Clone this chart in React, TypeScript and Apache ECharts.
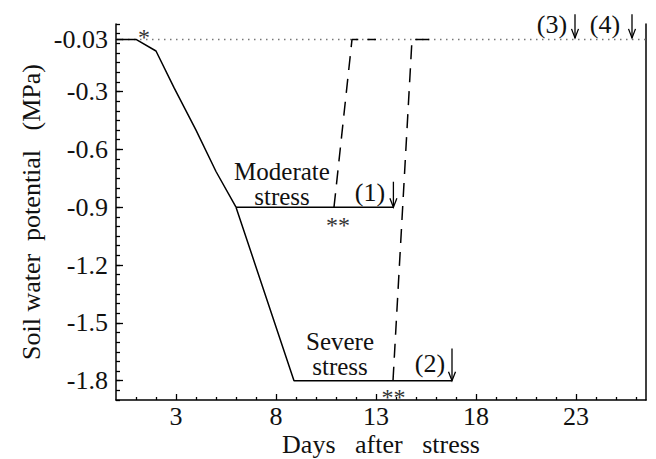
import React, { useEffect, useRef } from "react";
import * as echarts from "echarts";

const X_MIN = 0;
const X_MAX = 26.5;
const Y_MIN = -1.9;
const Y_MAX = 0.05;

const xLabelValues = [3, 8, 13, 18, 23];
const xMinorTicks = [1, 2, 4, 5, 6, 7, 9, 10, 11, 12, 14, 15, 16, 17, 19, 20, 21, 22, 24, 25, 26];
const yLabelValues = [-0.03, -0.3, -0.6, -0.9, -1.2, -1.5, -1.8];

// drying phase common to both treatments
const drydownDays = [0, 1, 2, 2.9, 4, 5, 6];
const drydownPsi = [-0.03, -0.03, -0.09, -0.28, -0.5, -0.715, -0.9];
// moderate stress plateau
const moderateDays = [6, 13.87];
const moderatePsi = [-0.9, -0.9];
// severe stress descent and plateau
const severeDays = [6, 8.9, 16.8];
const severePsi = [-0.9, -1.8, -1.8];
// rewatering (dashed)
const moderateRewaterDays = [10.9, 11.8, 13];
const moderateRewaterPsi = [-0.9, -0.03, -0.03];
const severeRewaterDays = [13.85, 14.8, 16.1];
const severeRewaterPsi = [-1.8, -0.03, -0.03];
// control level (dotted)
const controlDays = [0, 26.5];
const controlPsi = [-0.03, -0.03];

// annotations
const annotationTexts = ["*", "Moderate\nstress", "(1)", "**", "Severe\nstress", "(2)", "**", "(3)", "(4)"];
const annotationDays = [1.4, 8.3, 12.7, 11.1, 11.2, 15.7, 13.87, 21.8, 24.45];
const annotationPsi = [-0.02, -0.778, -0.826, -0.993, -1.661, -1.711, -1.883, 0.049, 0.049];
const annotationSizes = [24, 25, 26, 24, 25, 26, 24, 26, 26];
const annotationColors = ["#333", "#111", "#111", "#333", "#111", "#111", "#333", "#111", "#111"];

// arrows: day, psi of tail, psi of tip
const arrowDays = [13.87, 16.8, 22.95, 25.8];
const arrowTailPsi = [-0.768, -1.633, 0.1, 0.1];
const arrowTipPsi = [-0.9, -1.8, -0.022, -0.022];

const FONT = "'Liberation Serif', 'Times New Roman', serif";
const NB = "\u00a0";

const pairs = (xs: number[], ys: number[]) => xs.map((x, i) => [x, ys[i]]);

export default function App() {
  const ref = useRef<HTMLDivElement>(null);
  useEffect(() => {
    document.body.style.margin = "0";
    if (!ref.current) return;
    const chart = echarts.init(ref.current, undefined, { renderer: "svg" });

    const yMinor: number[] = [];
    for (let k = 1; k >= -38; k--) yMinor.push(+(k * 0.05).toFixed(2));

    const solid = { color: "#000", width: 1.5 };
    const dashed = { color: "#000", width: 1.5, type: [14, 9] as any };

    chart.setOption({
      animation: false,
      backgroundColor: "#fff",
      grid: { left: 116, right: 10, top: 24, bottom: 59, containLabel: false, outerBoundsMode: "none" },
      xAxis: [
        {
          type: "value",
          min: X_MIN,
          max: X_MAX,
          name: `Days${NB}${NB}${NB}after${NB}${NB}${NB}stress`,
          nameLocation: "middle",
          nameGap: 31,
          nameMoveOverlap: false,
          nameTextStyle: { fontFamily: FONT, fontSize: 26, color: "#111" },
          axisLine: { show: true, onZero: false, lineStyle: { color: "#000", width: 1.5 } },
          axisTick: { show: true, inside: true, length: 6, customValues: xLabelValues, lineStyle: { color: "#000", width: 1.3 } },
          axisLabel: { show: true, customValues: xLabelValues, margin: 3, fontFamily: FONT, fontSize: 26, color: "#111" },
          splitLine: { show: false },
        },
        {
          type: "value",
          min: X_MIN,
          max: X_MAX,
          position: "bottom",
          axisLine: { show: false, onZero: false },
          axisTick: { show: true, inside: true, length: 3, customValues: xMinorTicks, lineStyle: { color: "#000", width: 1.3 } },
          axisLabel: { show: false },
          splitLine: { show: false },
        },
      ],
      yAxis: [
        {
          type: "value",
          min: Y_MIN,
          max: Y_MAX,
          name: `Soil${NB}water${NB}${NB}potential${NB}${NB}${NB}(MPa)`,
          nameLocation: "middle",
          nameGap: 72,
          nameMoveOverlap: false,
          nameTextStyle: { fontFamily: FONT, fontSize: 26, color: "#111" },
          axisLine: { show: true, onZero: false, lineStyle: { color: "#000", width: 1.5 } },
          axisTick: { show: true, inside: true, length: 7, customValues: yLabelValues, lineStyle: { color: "#000", width: 1.3 } },
          axisLabel: { show: true, customValues: yLabelValues, margin: 8, fontFamily: FONT, fontSize: 26, color: "#111", formatter: (v: number) => String(v) },
          splitLine: { show: false },
        },
        {
          type: "value",
          min: Y_MIN,
          max: Y_MAX,
          position: "left",
          axisLine: { show: false, onZero: false },
          axisTick: { show: true, inside: true, length: 4, customValues: yMinor, lineStyle: { color: "#000", width: 1.3 } },
          axisLabel: { show: false },
          splitLine: { show: false },
        },
        {
          type: "value",
          min: Y_MIN,
          max: Y_MAX,
          position: "right",
          axisLine: { show: true, onZero: false, lineStyle: { color: "#000", width: 1.5 } },
          axisTick: { show: false },
          axisLabel: { show: false },
          splitLine: { show: false },
        },
      ],
      series: [
        { type: "line", data: pairs(controlDays, controlPsi), symbol: "none", lineStyle: { color: "#777", width: 1.4, type: [1.5, 4.5] as any }, z: 1 },
        { type: "line", data: pairs(drydownDays, drydownPsi), symbol: "none", lineStyle: solid, z: 3 },
        { type: "line", data: pairs(moderateDays, moderatePsi), symbol: "none", lineStyle: solid, z: 3 },
        { type: "line", data: pairs(severeDays, severePsi), symbol: "none", lineStyle: solid, z: 3 },
        { type: "line", data: pairs(moderateRewaterDays, moderateRewaterPsi), symbol: "none", lineStyle: dashed, z: 4 },
        { type: "line", data: pairs(severeRewaterDays, severeRewaterPsi), symbol: "none", lineStyle: dashed, z: 4 },
      ],
    });

    const toPx = (x: number, y: number) => chart.convertToPixel({ xAxisIndex: 0, yAxisIndex: 0 }, [x, y]) as number[];

    const graphics: any[] = [];
    annotationTexts.forEach((t, i) => {
      const [px, py] = toPx(annotationDays[i], annotationPsi[i]);
      graphics.push({
        type: "text",
        x: px,
        y: py,
        style: {
          text: t,
          fontFamily: FONT,
          fontSize: annotationSizes[i],
          lineHeight: 25,
          fill: annotationColors[i],
          align: "center",
          verticalAlign: "middle",
        },
        z: 10,
      });
    });
    arrowDays.forEach((d, i) => {
      const [px, py0] = toPx(d, arrowTailPsi[i]);
      const [, py1] = toPx(d, arrowTipPsi[i]);
      graphics.push({ type: "line", shape: { x1: px, y1: py0, x2: px, y2: py1 }, style: { stroke: "#000", lineWidth: 1.3 }, z: 10 });
      graphics.push({
        type: "polyline",
        shape: { points: [[px - 3.5, py1 - 9], [px, py1], [px + 3.5, py1 - 9]] },
        style: { stroke: "#000", lineWidth: 1.3, fill: "none" },
        z: 10,
      });
    });
    chart.setOption({ graphic: graphics });

    return () => chart.dispose();
  }, []);
  return <div ref={ref} style={{ width: 656, height: 459 }} />;
}
